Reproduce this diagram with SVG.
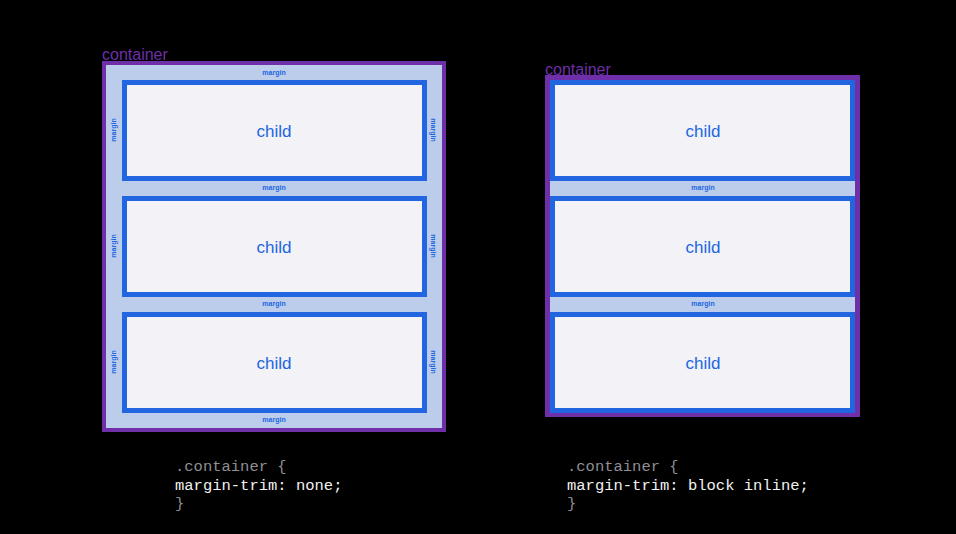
<svg xmlns="http://www.w3.org/2000/svg" width="956" height="534" viewBox="0 0 956 534">
<style>
.cont{fill:#bccdec;stroke:#6e2fa8;stroke-width:4}
.ch{fill:#f2f2f7;stroke:#2166e0;stroke-width:5}
.ct{font-family:"Liberation Sans",Arial,sans-serif;font-size:17px;fill:#2166e0;text-anchor:middle}
.m{font-family:"Liberation Sans",Arial,sans-serif;font-size:7px;font-weight:bold;fill:#2166e0;text-anchor:middle}
.lbl{font-family:"Liberation Sans",Arial,sans-serif;font-size:16px;fill:#6e2fa8}
.code{font-family:"Liberation Mono","DejaVu Sans Mono",monospace;font-size:15.5px;white-space:pre}
</style>
<rect width="956" height="534" fill="#000"/>
<g id="left">
<text class="lbl" x="102" y="60">container</text>
<rect class="cont" x="104" y="63" width="340" height="367"/>
<g id="lc1"><rect class="ch" x="124.5" y="82.5" width="300" height="96"/><text class="ct" x="274" y="137">child</text></g>
<g id="lc2"><rect class="ch" x="124.5" y="198.5" width="300" height="96"/><text class="ct" x="274" y="253">child</text></g>
<g id="lc3"><rect class="ch" x="124.5" y="314.5" width="300" height="96"/><text class="ct" x="274" y="369">child</text></g>
<text class="m" x="274" y="75">margin</text>
<text class="m" x="274" y="190">margin</text>
<text class="m" x="274" y="306">margin</text>
<text class="m" x="274" y="422">margin</text>
<text class="m" transform="translate(116,130) rotate(-90)">margin</text>
<text class="m" transform="translate(116,246) rotate(-90)">margin</text>
<text class="m" transform="translate(116,362) rotate(-90)">margin</text>
<text class="m" transform="translate(431,130) rotate(90)">margin</text>
<text class="m" transform="translate(431,246) rotate(90)">margin</text>
<text class="m" transform="translate(431,362) rotate(90)">margin</text>
</g>
<g id="right">
<text class="lbl" x="545" y="75">container</text>
<rect x="547.5" y="77.5" width="310" height="337" fill="#bccdec" stroke="#6e2fa8" stroke-width="5"/>
<g id="rc1"><rect class="ch" x="552.5" y="82.5" width="300" height="96"/><text class="ct" x="703" y="137">child</text></g>
<g id="rc2"><rect class="ch" x="552.5" y="198.5" width="300" height="96"/><text class="ct" x="703" y="253">child</text></g>
<g id="rc3"><rect class="ch" x="552.5" y="314.5" width="300" height="96"/><text class="ct" x="703" y="369">child</text></g>
<text class="m" x="703" y="190">margin</text>
<text class="m" x="703" y="306">margin</text>
</g>
<g id="code1" class="code">
<text x="175" y="471" fill="#8e8e93">.container {</text>
<text x="175" y="490" fill="#f2f2f2">  margin-trim: none;</text>
<text x="175" y="508" fill="#8e8e93">}</text>
</g>
<g id="code2" class="code">
<text x="567" y="471" fill="#8e8e93">.container {</text>
<text x="567" y="490" fill="#f2f2f2">  margin-trim: block inline;</text>
<text x="567" y="508" fill="#8e8e93">}</text>
</g>
<g id="connectors"/>
</svg>
